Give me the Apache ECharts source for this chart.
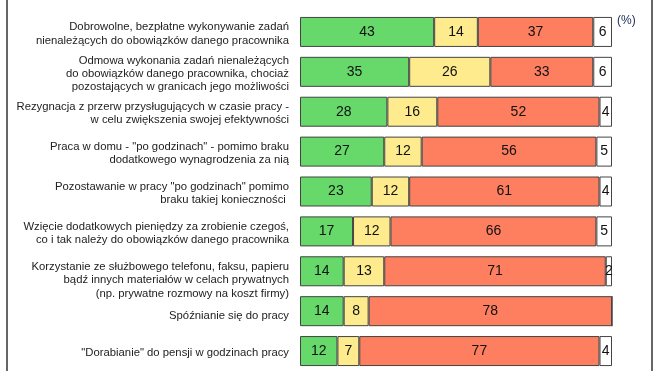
<!DOCTYPE html>
<html>
<head>
<meta charset="utf-8">
<script src="https://cdn.jsdelivr.net/npm/echarts@6/dist/echarts.min.js"></script>
<style>html,body{margin:0;padding:0;background:#fff;}#c{width:660px;height:371px;}</style>
</head>
<body>
<div id="c"></div>
<script>
var categories = [
  'Dobrowolne, bezpłatne wykonywanie zadań\nnienależących do obowiązków danego pracownika',
  'Odmowa wykonania zadań nienależących\ndo obowiązków danego pracownika, chociaż\npozostających w granicach jego możliwości',
  'Rezygnacja z przerw przysługujących w czasie pracy -\nw celu zwiększenia swojej efektywności',
  'Praca w domu - "po godzinach" - pomimo braku\ndodatkowego wynagrodzenia za nią',
  'Pozostawanie w pracy "po godzinach" pomimo\nbraku takiej konieczności ',
  'Wzięcie dodatkowych pieniędzy za zrobienie czegoś,\nco i tak należy do obowiązków danego pracownika',
  'Korzystanie ze służbowego telefonu, faksu, papieru\nbądź innych materiałów w celach prywatnych\n(np. prywatne rozmowy na koszt firmy)',
  'Spóźnianie się do pracy',
  '"Dorabianie" do pensji w godzinach pracy'
];
var greenValues  = [43, 35, 28, 27, 23, 17, 14, 14, 12];
var yellowValues = [14, 26, 16, 12, 12, 12, 13, 8, 7];
var redValues    = [37, 33, 52, 56, 61, 66, 71, 78, 77];
var whiteValues  = [6, 6, 4, 5, 4, 5, 2, 0, 4];
var unitLabel = '(%)';

function mk(name, data, color) {
  return {
    name: name, type: 'bar', stack: 'a', data: data, barWidth: 30,
    itemStyle: { color: color, borderColor: '#444', borderWidth: 1 },
    label: {
      show: true, position: 'inside', color: '#111', fontSize: 14,
      fontFamily: 'Liberation Sans, Arial, sans-serif',
      formatter: function (p) { return p.value ? String(p.value) : ''; }
    }
  };
}

var chart = echarts.init(document.getElementById('c'));
chart.setOption({
  animation: false,
  grid: { left: 300, width: 312, top: 12, height: 362 },
  xAxis: { type: 'value', min: 0, max: 100, show: false },
  yAxis: {
    type: 'category', inverse: true, data: categories,
    axisLine: { show: false }, axisTick: { show: false },
    axisLabel: {
      margin: 11, color: '#222', fontSize: 11.3, lineHeight: 13.3,
      padding: [4, 0, 0, 0],
      fontFamily: 'Liberation Sans, Arial, sans-serif', align: 'right',
      formatter: function (v, i) {
        if (i === 6) return '{s10| }\n' + v;
        if (i === 7) return '{s6| }\n' + v;
        return v;
      },
      rich: { s10: { lineHeight: 14, fontSize: 2 }, s6: { lineHeight: 6, fontSize: 2 } }
    }
  },
  series: [
    mk('a', greenValues, '#66d96a'),
    mk('b', yellowValues, '#fdeb8e'),
    mk('c', redValues, '#fd7f5f'),
    mk('d', whiteValues, '#ffffff')
  ],
  graphic: [
    { type: 'line', shape: { x1: 7, y1: 0, x2: 7, y2: 371 }, style: { stroke: '#333', lineWidth: 1.5 } },
    { type: 'line', shape: { x1: 652, y1: 0, x2: 652, y2: 371 }, style: { stroke: '#333', lineWidth: 1.5 } },
    { type: 'text', left: 617, top: 15, style: { text: unitLabel, fontSize: 12, fill: '#22305a', fontFamily: 'Liberation Sans, Arial, sans-serif' } }
  ]
});
</script>
</body>
</html>
